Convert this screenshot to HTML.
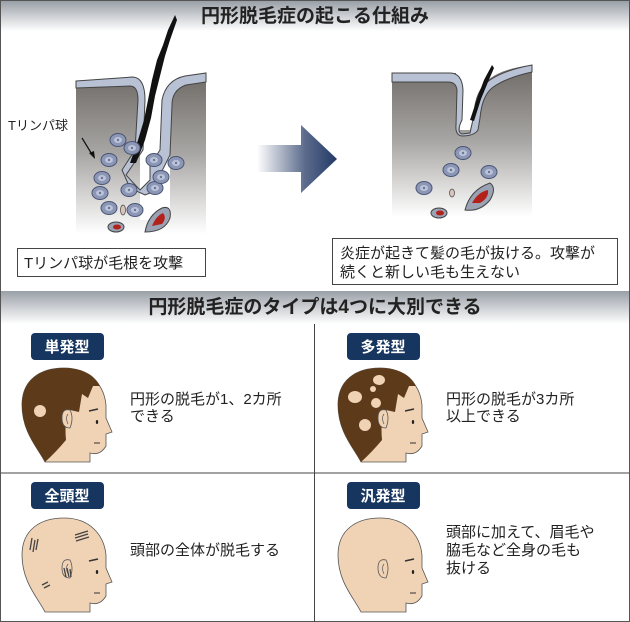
<!DOCTYPE html>
<html><head><meta charset="utf-8"><style>
body{margin:0;background:#fff}
svg{display:block}
text{font-family:"Liberation Sans","Noto Sans CJK JP",sans-serif;fill:#222}
.b{font-weight:bold}
</style></head><body>
<svg width="630" height="622" viewBox="0 0 630 622" xmlns="http://www.w3.org/2000/svg">
<defs>
<linearGradient id="hdr" x1="0" y1="0" x2="0" y2="1"><stop offset="0" stop-color="#9aa0a8"/><stop offset="1" stop-color="#ffffff"/></linearGradient>
<linearGradient id="skin" x1="0" y1="0" x2="0" y2="1"><stop offset="0" stop-color="#6e6a66"/><stop offset="0.5" stop-color="#a8a6a4"/><stop offset="1" stop-color="#ffffff"/></linearGradient>
<linearGradient id="arr" x1="0" y1="0" x2="1" y2="0"><stop offset="0" stop-color="#ffffff"/><stop offset="0.6" stop-color="#5b6b8c"/><stop offset="1" stop-color="#233a66"/></linearGradient>
<g id="cell"><ellipse rx="8" ry="6.5" fill="#8c97b6" stroke="#4a5474" stroke-width="1"/><ellipse rx="4" ry="3" fill="#bcc4da"/><circle r="1.2" fill="#6a7494"/></g>
<path id="headshape" d="M45 462 C38 448 22 432 22 405 C22 380 40 368 64 368 C90 368 104 385 106 405 L106 418 L112 432 L106 434 L106 446 Q100 456 90 453 L90 462 Z"/>
<g id="face">
<use href="#headshape" fill="#f0d2b4" stroke="#555" stroke-width=".8"/>
<line x1="89" y1="411" x2="98" y2="409" stroke="#333" stroke-width="1.6"/>
<ellipse cx="97" cy="422" rx="1.2" ry="2" fill="#222"/>
<line x1="94" y1="443" x2="100" y2="443" stroke="#333"/>
</g>
<g id="ear"><path d="M70 428 Q62 428 62 418 Q62 408 70 410 Q74 418 70 428Z" fill="#f0d2b4" stroke="#555" stroke-width=".8"/><path d="M68 424 Q65 418 68 414" fill="none" stroke="#555" stroke-width=".7"/></g>
</defs>
<rect x="0.5" y="0.5" width="629" height="621" fill="#fff" stroke="#555"/>
<rect x="1" y="1" width="628" height="30" fill="url(#hdr)"/>
<text x="315" y="22" text-anchor="middle" font-size="19" class="b">円形脱毛症の起こる仕組み</text>

<!-- left skin -->
<path d="M76 81 L130 78 Q140 78 140 95 L140 220 L170 220 L170 95 Q172 78 190 76 L206 73 L206 234 L76 234 Z" fill="url(#skin)"/>
<path d="M76 81 L133 77 Q145 78 145 100 L143 150 L126 175 L140 190 L150 180 L150 165 L160 150 L162 100 Q166 80 185 76 L206 73 L206 82 L186 85 Q172 90 172 105 L170 155 L160 175 L158 190 L145 195 L130 188 L122 170 L135 150 L138 100 Q138 86 130 86 L76 88 Z" fill="#b8c2d4" stroke="#444" stroke-width="1"/>
<path d="M175 15 L168 30 L163 45 L157 60 L152 80 L148 100 L144 120 L138 140 L130 163 L136 163 L145 140 L151 118 L155 96 L160 76 L165 56 L170 40 L177 20 Z" fill="#111"/>
<use href="#cell" x="109" y="160"/><use href="#cell" x="132" y="148"/><use href="#cell" x="100" y="193"/>
<use href="#cell" x="154" y="160"/><use href="#cell" x="176" y="163"/><use href="#cell" x="102" y="178"/>
<use href="#cell" x="129" y="190"/><use href="#cell" x="155" y="188"/><use href="#cell" x="109" y="208"/>
<use href="#cell" x="135" y="210"/><use href="#cell" x="161" y="177"/><use href="#cell" x="118" y="140"/>
<path d="M145 232 Q148 215 162 208 Q172 205 170 218 Q165 232 145 232Z" fill="#9aa2b4" stroke="#444"/>
<path d="M152 226 Q156 216 163 213 Q167 218 162 224Z" fill="#b3221a"/>
<ellipse cx="116" cy="227" rx="8" ry="5" fill="#9aa2b4" stroke="#444"/><ellipse cx="117" cy="227" rx="4" ry="2.5" fill="#b3221a"/>
<ellipse cx="123" cy="210" rx="2.5" ry="5" fill="#d8c4bc" stroke="#444" stroke-width=".7"/>
<text x="8" y="130" font-size="13">Tリンパ球</text>
<path d="M82 138 L93 156" stroke="#111" stroke-width="1.2"/><path d="M95 159 L89 153 L94 151Z" fill="#111"/>
<rect x="17.5" y="248.5" width="188" height="28" fill="#fff" stroke="#444"/>
<text x="24" y="268" font-size="15">Tリンパ球が毛根を攻撃</text>

<!-- arrow -->
<path d="M257 145 L301 145 L301 125 L337 159 L301 193 L301 172 L257 172 Z" fill="url(#arr)"/>

<!-- right skin -->
<path d="M392 73 L456 73 L460 130 L470 130 L480 90 Q490 70 532 65 L532 217 L392 217 Z" fill="url(#skin)"/>
<path d="M392 73 L450 73 Q462 73 463 90 L462 120 Q456 132 462 134 L470 133 L474 115 Q475 90 490 80 Q505 70 532 65 L532 72 Q505 78 492 88 Q482 96 480 118 L478 130 Q474 136 462 136 Q455 135 456 125 L457 90 Q456 82 448 82 L392 82 Z" fill="#b8c2d4" stroke="#444" stroke-width="1"/>
<path d="M492 65 L484 80 L478 96 L470 120 L474 121 L481 99 L488 82 L494 68Z" fill="#111"/>
<use href="#cell" x="463" y="153"/><use href="#cell" x="451" y="170"/><use href="#cell" x="489" y="172"/><use href="#cell" x="424" y="188"/>
<path d="M465 210 Q470 190 490 183 Q497 188 490 200 Q480 212 465 210Z" fill="#9aa2b4" stroke="#444"/>
<path d="M472 203 Q478 192 488 190 Q489 198 480 203Z" fill="#b3221a"/>
<ellipse cx="439" cy="213" rx="8" ry="5" fill="#9aa2b4" stroke="#444"/><ellipse cx="440" cy="213" rx="4" ry="2.5" fill="#b3221a"/>
<ellipse cx="452" cy="193" rx="2.5" ry="4" fill="#d8c4bc" stroke="#444" stroke-width=".7"/>
<rect x="332.5" y="238.5" width="285" height="46" fill="#fff" stroke="#444"/>
<text x="340" y="258" font-size="15">炎症が起きて髪の毛が抜ける。攻撃が</text>
<text x="340" y="277" font-size="15">続くと新しい毛も生えない</text>

<!-- section 2 -->
<rect x="1" y="291" width="628" height="33" fill="url(#hdr)"/>
<text x="315" y="313" text-anchor="middle" font-size="19" class="b">円形脱毛症のタイプは4つに大別できる</text>
<line x1="1" y1="473" x2="629" y2="473" stroke="#444"/>
<line x1="314.5" y1="324" x2="314.5" y2="622" stroke="#444"/>

<rect x="31" y="333" width="73" height="27" rx="4" fill="#16365f"/>
<text x="67" y="352" text-anchor="middle" font-size="15" class="b" style="fill:#fff">単発型</text>
<rect x="347" y="333" width="73" height="27" rx="4" fill="#16365f"/>
<text x="383" y="352" text-anchor="middle" font-size="15" class="b" style="fill:#fff">多発型</text>
<rect x="31" y="482" width="73" height="27" rx="4" fill="#16365f"/>
<text x="67" y="501" text-anchor="middle" font-size="15" class="b" style="fill:#fff">全頭型</text>
<rect x="347" y="482" width="73" height="27" rx="4" fill="#16365f"/>
<text x="383" y="501" text-anchor="middle" font-size="15" class="b" style="fill:#fff">汎発型</text>

<!-- head 1 -->
<use href="#face"/>
<path d="M45 462 C38 448 22 432 22 405 C22 380 40 368 64 368 C84 368 95 376 100 386 L93 386 L88 398 L82 394 L79 412 L70 410 Q64 420 66 440 Q56 452 45 462Z" fill="#5c3a1a"/>
<use href="#ear"/>
<circle cx="40" cy="411" r="6" fill="#f0d2b4"/>

<!-- head 2 -->
<g transform="translate(316,0)">
<use href="#face"/>
<path d="M45 462 C38 448 22 432 22 405 C22 380 40 368 64 368 C84 368 95 376 100 386 L93 386 L88 398 L82 394 L79 412 L70 410 Q64 420 66 440 Q56 452 45 462Z" fill="#5c3a1a"/>
<use href="#ear"/>
<ellipse cx="63" cy="380" rx="6" ry="5" fill="#f0d2b4"/><circle cx="57" cy="389" r="3" fill="#f0d2b4"/>
<ellipse cx="39" cy="397" rx="7" ry="6" fill="#f0d2b4"/><circle cx="60" cy="403" r="5" fill="#f0d2b4"/>
<circle cx="49" cy="425" r="6" fill="#f0d2b4"/>
</g>

<!-- head 3 -->
<g transform="translate(0,150)">
<use href="#face"/>
<use href="#ear"/>
<path d="M75 385 l13 -4 M75 388 l13 -4 M76 391 l13 -4 M30 400 l2 -12 M33 402 l2 -12 M36 400 l2 -11 M64 418 l2 9 M67 418 l2 9 M70 419 l1 8 M42 435 l6 -3 M44 438 l6 -3" stroke="#444" stroke-width="1.3"/>
</g>

<!-- head 4 -->
<g transform="translate(316,150)">
<use href="#face"/>
<use href="#ear"/>
</g>

<text x="130" y="404" font-size="15">円形の脱毛が1、2カ所</text>
<text x="130" y="421" font-size="15">できる</text>
<text x="446" y="404" font-size="15">円形の脱毛が3カ所</text>
<text x="446" y="421" font-size="15">以上できる</text>
<text x="130" y="555" font-size="15">頭部の全体が脱毛する</text>
<text x="446" y="537" font-size="15">頭部に加えて、眉毛や</text>
<text x="446" y="555" font-size="15">脇毛など全身の毛も</text>
<text x="446" y="573" font-size="15">抜ける</text>
</svg>
</body></html>
